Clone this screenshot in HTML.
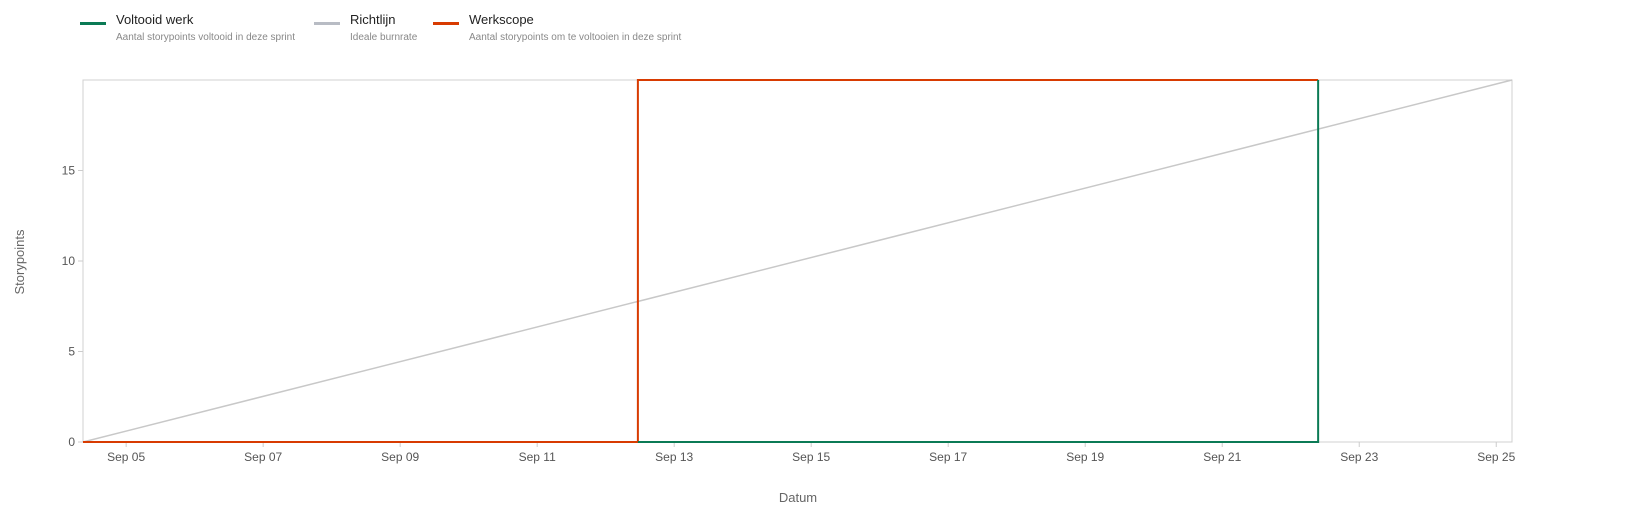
<!DOCTYPE html>
<html><head><meta charset="utf-8"><style>
body{margin:0;width:1629px;height:518px;overflow:hidden;background:#fff;font-family:"Liberation Sans",sans-serif}
.leg{position:absolute;top:12px}
.sw{position:absolute;left:0;top:10px;width:26px;height:3px}
.t{position:absolute;left:36px;top:0;font-size:13px;color:#222;white-space:nowrap}
.s{position:absolute;left:36px;top:20px;font-size:10px;color:#888;white-space:nowrap}
</style></head><body>
<div class="leg" style="left:80px"><div class="sw" style="background:#0b7a55"></div><div class="t">Voltooid werk</div><div class="s">Aantal storypoints voltooid in deze sprint</div></div>
<div class="leg" style="left:314px"><div class="sw" style="background:#b8bcc4"></div><div class="t">Richtlijn</div><div class="s">Ideale burnrate</div></div>
<div class="leg" style="left:433px"><div class="sw" style="background:#d83b01"></div><div class="t">Werkscope</div><div class="s">Aantal storypoints om te voltooien in deze sprint</div></div>
<svg id="c" width="1629" height="518" style="position:absolute;left:0;top:0"></svg>
<script>
const xTicks=[5,7,9,11,13,15,17,19,21,23,25];
const xTickLabels=["Sep 05","Sep 07","Sep 09","Sep 11","Sep 13","Sep 15","Sep 17","Sep 19","Sep 21","Sep 23","Sep 25"];
const yTicks=[0,5,10,15];
const scopeX=[4.37,12.47,12.47,22.40];
const scopeY=[0,0,20,20];
const doneX=[12.47,22.40,22.40];
const doneY=[0,0,20];
const idealX=[4.37,25.23];
const idealY=[0,20];
const xMin=4.37,xMax=25.23,yMax=20;
const L=83,R=1512,T=80,B=442;
const sx=v=>L+(v-xMin)/(xMax-xMin)*(R-L);
const sy=v=>B-v/yMax*(B-T);
const svg=document.getElementById('c');
const NS='http://www.w3.org/2000/svg';
function mk(tag,a,txt){const e=document.createElementNS(NS,tag);for(const k in a)e.setAttribute(k,a[k]);if(txt!==undefined)e.textContent=txt;svg.appendChild(e);return e;}
let e=mk('rect',{x:L,y:T,width:R-L,height:B-T,fill:'none',stroke:'#d0d0d0'});


xTicks.forEach((t,i)=>{
 let l=mk('line',{x1:sx(t),x2:sx(t),y1:B,y2:B+5,stroke:'#ccc'});
 
 
 let tx=mk('text',{x:sx(t),y:B+19,'text-anchor':'middle','font-size':12,fill:'#555'},xTickLabels[i]);
 
 
});
yTicks.forEach(t=>{
 let l=mk('line',{x1:L-5,x2:L,y1:sy(t),y2:sy(t),stroke:'#ccc'});
 
 
 let tx=mk('text',{x:L-8,y:sy(t)+4,'text-anchor':'end','font-size':12,fill:'#555'},t);
 
 
});
function path(xs,ys,c,w){return mk('polyline',{points:xs.map((x,i)=>sx(x)+','+sy(ys[i])).join(' '),fill:'none',stroke:c,'stroke-width':w});}
e=path(idealX,idealY,'#c8c8c8',1.5);


e=path(scopeX,scopeY,'#d83b01',2);


e=path(doneX,doneY,'#0b7a55',2);


e=mk('text',{x:798,y:502,'text-anchor':'middle','font-size':13,fill:'#666'},'Datum');


e=mk('text',{x:24,y:262,'text-anchor':'middle','font-size':13,fill:'#666',transform:'rotate(-90 24 262)'},'Storypoints');


</script>
</body></html>
